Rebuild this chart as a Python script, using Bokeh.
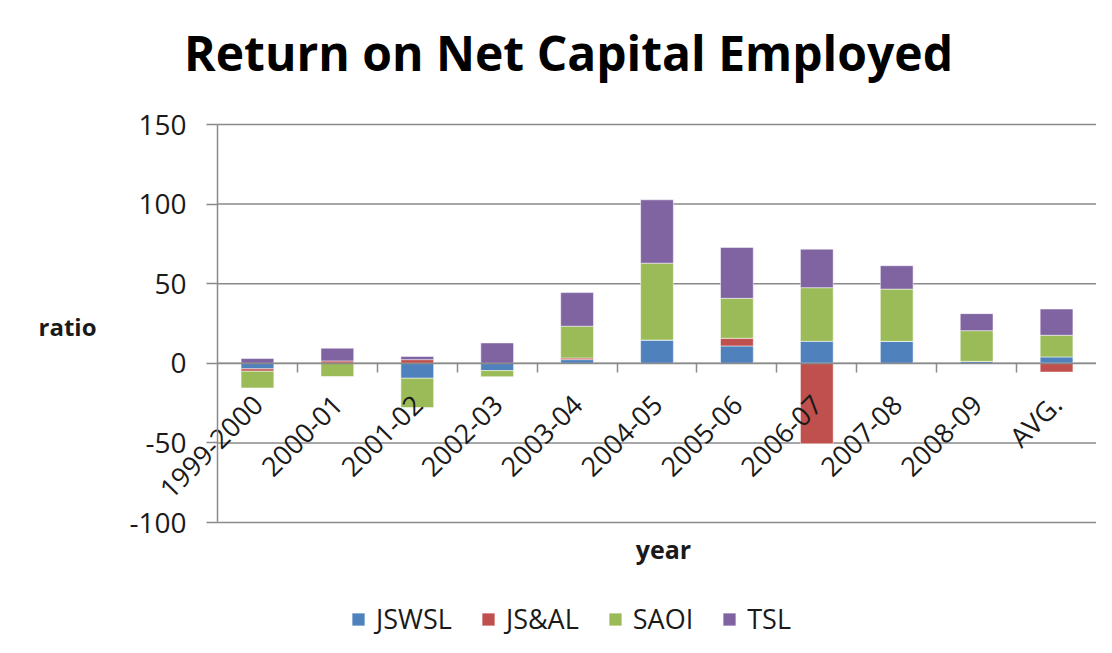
from bokeh.plotting import figure
from bokeh.models import (Range1d, FixedTicker, Label, Legend, LegendItem,
                          ColumnDataSource)
from bokeh.embed import file_html
from bokeh.resources import INLINE

# ---- data ----
categories = ["1999-2000", "2000-01", "2001-02", "2002-03", "2003-04", "2004-05",
              "2005-06", "2006-07", "2007-08", "2008-09", "AVG."]
series_names = ["JSWSL", "JS&AL", "SAOI", "TSL"]
JSWSL = [-3.5, 0.0, -9.4, -4.6, 2.3, 14.6, 10.9, 13.8, 13.8, 1.2, 4.0]
JS_AL = [-1.5, 1.5, 2.3, 0.0, 1.0, 0.0, 4.8, -50.5, 0.0, 0.0, -5.5]
SAOI = [-10.5, -8.3, -18.4, -3.8, 20.0, 48.3, 25.1, 33.7, 32.8, 19.3, 13.6]
TSL = [3.0, 8.0, 2.0, 12.8, 21.1, 39.8, 32.0, 24.2, 14.7, 10.7, 16.5]
colors = ["#4F81BD", "#C0504D", "#9BBB59", "#8064A2"]
y_ticks = [-100, -50, 0, 50, 100, 150]

FONT = "Open Sans"
GRID = "#8a8a8a"
TXT = "#1a1a1a"

W, H = 1096, 637
# layout of the plotting area inside the canvas (pixels)
PL, PR, PT, PB = 217, 1096, 124, 522
n = len(categories)
ppx = (PR - PL) / n
ppy = (PB - PT) / (y_ticks[-1] - y_ticks[0])
x0 = -0.5 - PL / ppx
x1 = n - 0.5 + (W - PR) / ppx
y1 = y_ticks[-1] + PT / ppy
y0 = y_ticks[0] - (H - PB) / ppy

p = figure(width=W, height=H, output_backend="svg", toolbar_location=None,
           x_range=Range1d(x0, x1), y_range=Range1d(y0, y1),
           min_border_left=0, min_border_right=0,
           min_border_top=0, min_border_bottom=0)
p.outline_line_color = None
p.background_fill_color = "white"
p.border_fill_color = "white"
p.xgrid.visible = False
p.ygrid.visible = False

xs = list(range(n))

# horizontal gridlines across the category area
p.segment(x0=[-0.5] * len(y_ticks), x1=[n - 0.5] * len(y_ticks),
          y0=y_ticks, y1=y_ticks, line_color=GRID, line_width=1.5)

# stacked bars (positive and negative parts stacked separately)
pos = [0.0] * n
neg = [0.0] * n
renderers = []
for name, vals, col in zip(series_names, [JSWSL, JS_AL, SAOI, TSL], colors):
    bottoms, tops = [], []
    for i, v in enumerate(vals):
        if v >= 0:
            bottoms.append(pos[i]); tops.append(pos[i] + v); pos[i] += v
        else:
            tops.append(neg[i]); bottoms.append(neg[i] + v); neg[i] += v
    src = ColumnDataSource(dict(x=xs, top=tops, bottom=bottoms))
    r = p.vbar(x="x", top="top", bottom="bottom", width=0.41, source=src,
               fill_color=col, line_color="white", line_alpha=0.5, line_width=1)
    renderers.append(r)

# y axis at the left edge of the category area
yax = p.yaxis[0]
yax.fixed_location = -0.5
yax.bounds = (y_ticks[0], y_ticks[-1])
yax.ticker = FixedTicker(ticks=y_ticks)
yax.major_label_overrides = {v: str(v) for v in y_ticks}
yax.axis_line_color = GRID
yax.axis_line_width = 1.5
yax.major_tick_line_color = GRID
yax.major_tick_line_width = 1.5
yax.major_tick_out = 11
yax.major_tick_in = 0
yax.minor_tick_line_color = None
yax.major_label_standoff = 20
yax.major_label_text_font = FONT
yax.major_label_text_font_size = "28px"
yax.major_label_text_color = TXT

# x axis at y = 0
xax = p.xaxis[0]
xax.fixed_location = 0
xax.bounds = (-0.5, n - 0.5)
xax.ticker = FixedTicker(ticks=xs, minor_ticks=[i + 0.5 for i in xs[:-1]])
xax.major_label_overrides = {i: c for i, c in enumerate(categories)}
xax.major_label_orientation = 0.785398
xax.major_tick_line_color = None
xax.major_tick_out = 0
xax.major_tick_in = 0
xax.minor_tick_line_color = GRID
xax.minor_tick_line_width = 1.5
xax.minor_tick_out = 9
xax.minor_tick_in = 0
xax.axis_line_color = GRID
xax.axis_line_width = 1.5
xax.major_label_standoff = 27
xax.major_label_text_font = FONT
xax.major_label_text_font_size = "27px"
xax.major_label_text_color = TXT

# title and axis titles (screen units: x from left, y from bottom)
p.add_layout(Label(x=568, y=H - 52, x_units="screen", y_units="screen",
                   text="Return on Net Capital Employed", text_font=FONT,
                   text_font_style="bold", text_font_size="48px",
                   text_align="center", text_baseline="middle", text_color="black"))
p.add_layout(Label(x=67, y=H - 326, x_units="screen", y_units="screen",
                   text="ratio", text_font=FONT, text_font_style="bold",
                   text_font_size="24px", text_align="center",
                   text_baseline="middle", text_color=TXT))
p.add_layout(Label(x=663, y=H - 548, x_units="screen", y_units="screen",
                   text="year", text_font=FONT, text_font_style="bold",
                   text_font_size="25px", text_align="center",
                   text_baseline="middle", text_color=TXT))

legend = Legend(items=[LegendItem(label=nm, renderers=[r]) for nm, r in zip(series_names, renderers)],
                orientation="horizontal", location=(350, 0),
                border_line_color=None, background_fill_alpha=0,
                label_text_font=FONT, label_text_font_size="27px",
                label_text_color=TXT, glyph_width=16, glyph_height=16,
                spacing=28, label_standoff=10, padding=0, margin=0)
p.add_layout(legend, "center")

open("out.html", "w").write(file_html(p, INLINE))
